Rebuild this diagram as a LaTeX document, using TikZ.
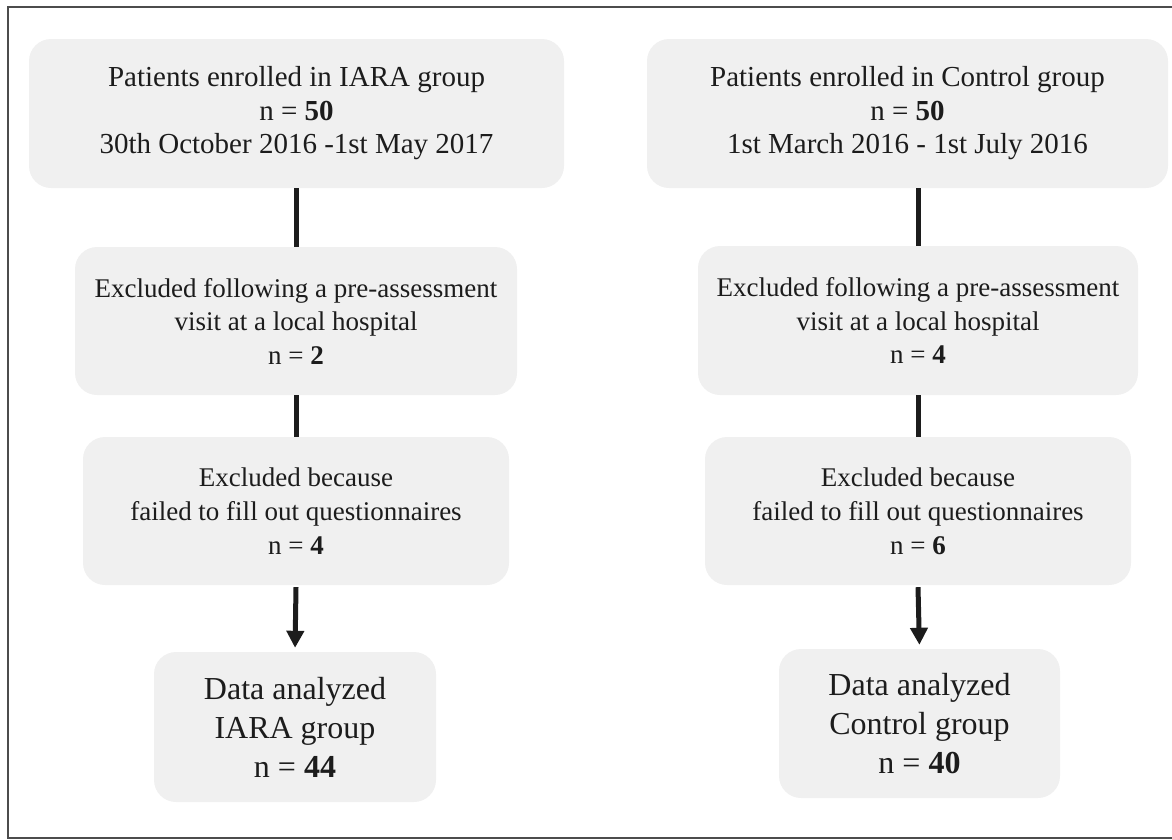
\documentclass[tikz,border=0pt]{standalone}
\usepackage{fontspec}
\setmainfont{Liberation Serif}
\usetikzlibrary{arrows.meta}
\definecolor{boxgray}{HTML}{F0F0F0}
\definecolor{inkgray}{HTML}{1C1C1C}
\begin{document}
\begin{tikzpicture}[x=1pt,y=-1pt,
    plainbox/.style={fill=boxgray,rounded corners=22pt,inner sep=0pt,align=center,text=inkgray},
    enrolled/.style={plainbox,font=\fontsize{29}{33.5}\selectfont,
      execute at begin node={\rule{0pt}{31pt}}},
    stage/.style={plainbox,font=\fontsize{27}{33.5}\selectfont,
      execute at begin node={\rule{0pt}{25pt}}},
    result/.style={plainbox,font=\fontsize{32}{39}\selectfont},
    link/.style={line width=5pt,inkgray},
    flow/.style={link,-{Triangle[width=17pt,length=17pt]},shorten >=4pt}]
  \useasboundingbox (0,0) rectangle (1172,839);
  \draw[line width=1.5pt,black!70] (8,7) rectangle (1190,838);
  % IARA group
  \node[enrolled,minimum width=535,minimum height=149] (l1) at (296.5,113.5)
    {Patients enrolled in IARA group\\n = \textbf{50}\\30th October 2016 -1st May 2017};
  \node[stage,minimum width=442,minimum height=148] (l2) at (296,321)
    {Excluded following a pre-assessment\\visit at a local hospital\\n = \textbf{2}};
  \node[plainbox,font=\fontsize{27}{34}\selectfont,minimum width=426,minimum height=148] (l3) at (296,511)
    {Excluded because\\failed to fill out questionnaires\\n = \textbf{4}};
  \node[result,minimum width=282,minimum height=150] (l4) at (295,727)
    {Data analyzed\\IARA group\\n = \textbf{44}};
  % Control group
  \node[enrolled,minimum width=521,minimum height=149] (r1) at (907.5,113.5)
    {Patients enrolled in Control group\\n = \textbf{50}\\1st March 2016 - 1st July 2016};
  \node[stage,minimum width=440,minimum height=149] (r2) at (918,320.5)
    {Excluded following a pre-assessment\\visit at a local hospital\\n = \textbf{4}};
  \node[plainbox,font=\fontsize{27}{34}\selectfont,minimum width=426,minimum height=148] (r3) at (918,511)
    {Excluded because\\failed to fill out questionnaires\\n = \textbf{6}};
  \node[result,minimum width=281,minimum height=149] (r4) at (919.5,723.5)
    {Data analyzed\\Control group\\n = \textbf{40}};
  % connectors
  \draw[link] (l1.south -| l2.north) -- (l2.north);
  \draw[link] (l2.south) -- (l3.north);
  \draw[flow] (l3.south) ++(0,2) -- (l4.north);
  \draw[link] (r1.south -| r2.north) -- (r2.north);
  \draw[link] (r2.south) -- (r3.north);
  \draw[flow] (r3.south) ++(0,2) -- (r4.north);
\end{tikzpicture}
\end{document}
